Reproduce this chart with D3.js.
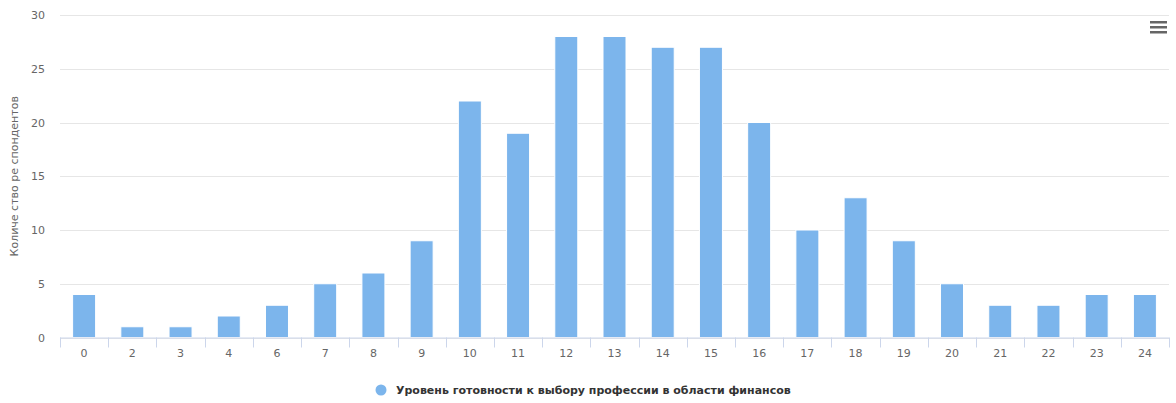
<!DOCTYPE html>
<html><head><meta charset="utf-8">
<script src="https://cdn.jsdelivr.net/npm/d3@7"></script>
<style>body{margin:0;background:#fff;font-family:"Lucida Grande","DejaVu Sans",Arial,sans-serif;}</style>
</head><body><svg id="c" width="1176" height="403"></svg>
<script>
const categories = ["0","2","3","4","6","7","8","9","10","11","12","13","14","15","16","17","18","19","20","21","22","23","24"];
const values = [4,1,1,2,3,5,6,9,22,19,28,28,27,27,20,10,13,9,5,3,3,4,4];
const yTicks = [0,5,10,15,20,25,30];
const seriesName = "Уровень готовности к выбору профессии в области финансов";
const yTitle = "Количе ство ре спондентов";

(function(){
const svg = d3.select("#c");
const pLeft = 60, pRight = 1169, pTop = 15, pBottom = 337.5;
const x = d3.scaleBand().domain(categories).range([pLeft, pRight]);
const y = d3.scaleLinear().domain([0, 30]).range([pBottom, pTop]);
const font = "'DejaVu Sans', sans-serif";

// grid
svg.append("g").selectAll("line").data(yTicks).join("line")
  .attr("x1", pLeft).attr("x2", pRight)
  .attr("y1", d => Math.round(y(d)) + 0.5).attr("y2", d => Math.round(y(d)) + 0.5)
  .attr("stroke", "#e6e6e6").attr("stroke-width", 1);

// y labels
svg.append("g").selectAll("text").data(yTicks).join("text")
  .attr("x", 45).attr("y", d => y(d) + 4)
  .attr("text-anchor", "end").attr("fill", "#666").style("font-size", "11px").style("font-family", font)
  .text(d => d);

// y title
svg.append("text").attr("transform", `translate(18,${(pTop + pBottom) / 2}) rotate(-90)`)
  .attr("text-anchor", "middle").attr("fill", "#666").style("font-size", "11px").style("font-family", font)
  .text(yTitle);

// bars
const bw = 23;
svg.append("g").selectAll("rect").data(values).join("rect")
  .attr("x", (d, i) => x(categories[i]) + x.bandwidth() / 2 - bw / 2)
  .attr("y", d => y(d))
  .attr("width", bw)
  .attr("height", d => pBottom - y(d))
  .attr("fill", "#7cb5ec").attr("stroke", "#fff").attr("stroke-width", 1);

// x axis
const xa = svg.append("g");
xa.append("line").attr("x1", pLeft).attr("x2", pRight).attr("y1", pBottom + 0.5).attr("y2", pBottom + 0.5)
  .attr("stroke", "#ccd6eb");
const tickPos = categories.map(c => x(c)).concat([pRight]);
xa.selectAll("line.t").data(tickPos).join("line").attr("class", "t")
  .attr("x1", d => Math.round(d) + 0.5).attr("x2", d => Math.round(d) + 0.5)
  .attr("y1", pBottom).attr("y2", pBottom + 10).attr("stroke", "#ccd6eb");
xa.selectAll("text").data(categories).join("text")
  .attr("x", d => x(d) + x.bandwidth() / 2).attr("y", pBottom + 19)
  .attr("text-anchor", "middle").attr("fill", "#666").style("font-size", "11px").style("font-family", font)
  .text(d => d);

// legend
const lg = svg.append("g");
lg.append("circle").attr("cx", 381).attr("cy", 390).attr("r", 5.5).attr("fill", "#7cb5ec");
lg.append("text").attr("x", 396).attr("y", 394).attr("fill", "#333")
  .style("font-size", "11px").style("font-weight", "bold").style("font-family", font).text(seriesName);

// menu icon
const mi = svg.append("g");
[0, 5, 10].forEach(dy => mi.append("rect").attr("x", 1150).attr("y", 21 + dy).attr("width", 17).attr("height", 2.5).attr("fill", "#666"));
})();
</script></body></html>
